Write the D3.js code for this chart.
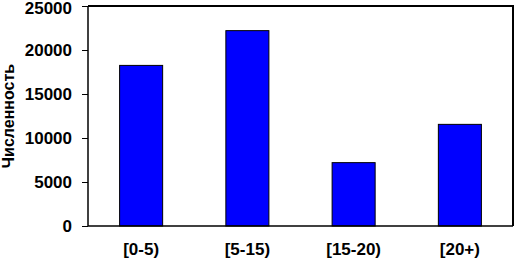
<!DOCTYPE html>
<html>
<head>
<meta charset="utf-8">
<script src="https://cdn.jsdelivr.net/npm/d3@7"></script>
<style>
  body { margin: 0; background: #fff; }
  svg { display: block; }
  .axis text { font-family: "Liberation Sans", Arial, sans-serif; font-weight: bold; font-size: 17px; fill: #000; }
  .axis path, .axis line { stroke: #000; }
</style>
</head>
<body>
<div id="chart"></div>
<script>
// ------------------------------------------
//  Data
// ------------------------------------------
const categories = ['[0-5)', '[5-15)', '[15-20)', '[20+)']
const counts = [18250, 22200, 7200, 11550]
const yTicks = [0, 5000, 10000, 15000, 20000, 25000]
const yTitle = 'Численность'

// ------------------------------------------
//  Chart
// ------------------------------------------
function drawChart() {
  const W = 515, H = 262
  const margin = { top: 6, right: 2, bottom: 36, left: 88 }
  const width = W - margin.left - margin.right
  const height = H - margin.top - margin.bottom

  const svg = d3.select('#chart').append('svg').attr('width', W).attr('height', H)
  const g = svg.append('g').attr('transform', `translate(${margin.left},${margin.top})`)

  const x = d3.scaleBand().domain(categories).range([0, width]).paddingInner(0.595).paddingOuter(0.2975)
  const y = d3.scaleLinear().domain([0, 25000]).range([height, 0])

  // frame top + right
  g.append('path')
    .attr('d', `M0,0H${width}V${height}`)
    .attr('fill', 'none').attr('stroke', '#000').attr('stroke-width', 2)

  g.selectAll('.bar')
    .data(counts)
    .enter().append('rect')
    .attr('class', 'bar')
    .attr('x', (d, i) => x(categories[i]))
    .attr('width', x.bandwidth())
    .attr('y', d => y(d))
    .attr('height', d => height - y(d))
    .attr('fill', '#0000ff')
    .attr('stroke', '#000')
    .attr('stroke-width', 1)

  const ya = g.append('g').attr('class', 'axis')
    .call(d3.axisLeft(y).tickValues(yTicks).tickSize(6).tickPadding(10).tickFormat(d3.format('d')))
  ya.select('.domain').attr('stroke-width', 1.5).attr('d', `M0,0V${height}`)
  // top label sits against the window edge; keep it inside
  ya.selectAll('.tick text').filter(d => d === 25000).attr('dy', '0.42em')

  const xa = g.append('g').attr('class', 'axis')
    .attr('transform', `translate(0,${height})`)
    .call(d3.axisBottom(x).tickSize(0).tickPadding(17))
  xa.select('.domain').attr('stroke-width', 1.5).attr('d', `M0,0H${width}`)

  svg.append('text')
    .attr('transform', `translate(14,${margin.top + height / 2}) rotate(-90)`)
    .attr('text-anchor', 'middle')
    .attr('font-family', '"Liberation Sans", Arial, sans-serif')
    .attr('font-weight', 'bold')
    .attr('font-size', 16)
    .text(yTitle)
}

drawChart()
</script>
</body>
</html>
